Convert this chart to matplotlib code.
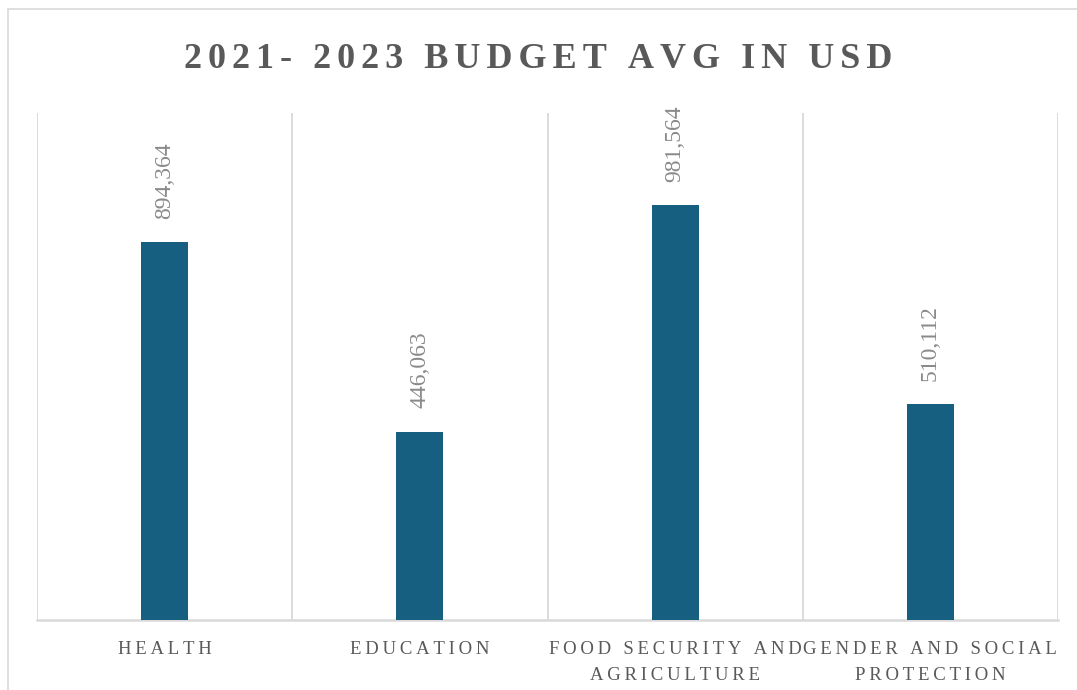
import numpy as np
import matplotlib
matplotlib.use("Agg")
import matplotlib.pyplot as plt
from matplotlib.patches import Rectangle

# budget averages per sector, 2021-2023 (USD)
sectors = ["HEALTH", "EDUCATION", "FOOD SECURITY AND\nAGRICULTURE",
           "GENDER AND SOCIAL\nPROTECTION"]
budget_avg = [894364, 446063, 981564, 510112]

BAR_COLOR = "#165f80"
GRID_COLOR = "#d9d9d9"
TEXT_COLOR = "#595959"
LABEL_COLOR = "#8a8a8a"
SERIF = ["Liberation Serif", "DejaVu Serif"]


def spread(s, gap="\u2009"):
    # fake letter spacing with narrow spaces, line by line
    return "\n".join(gap.join(line) for line in s.split("\n"))


fig = plt.figure(figsize=(10.77, 6.9), dpi=100)
fig.patch.set_facecolor("white")

# light frame round the chart
fig.patches.append(Rectangle((8 / 1077, -0.1), 1.2, 1.1 - 9 / 690,
                             transform=fig.transFigure, fill=False,
                             edgecolor=GRID_COLOR, lw=1.2))

ax = fig.add_axes([37 / 1077, 70 / 690, 1021 / 1077, 507 / 690])
x = np.arange(len(sectors))
ax.bar(x, budget_avg, width=0.185, color=BAR_COLOR, zorder=3)

ax.set_xlim(-0.5, len(sectors) - 0.5)
ax.set_ylim(0, 1200000)

# vertical separators between categories
for xv in np.arange(-0.5, len(sectors), 1.0):
    ax.axvline(xv, color=GRID_COLOR, lw=1.3, zorder=1)

for side in ["top", "right", "left"]:
    ax.spines[side].set_visible(False)
ax.spines["bottom"].set_color(GRID_COLOR)
ax.spines["bottom"].set_linewidth(1.8)
ax.set_yticks([])
ax.set_xticks(x)
ax.set_xticklabels([spread(s) for s in sectors], family=SERIF, fontsize=13.5,
                   color=TEXT_COLOR, linespacing=1.7)
ax.tick_params(axis="x", length=0, pad=15)

for xi, v in zip(x, budget_avg):
    ax.annotate(f"{v:,}", (xi, v), xytext=(0, 17), textcoords="offset points",
                rotation=90, ha="center", va="bottom", family=SERIF,
                fontsize=17, color=LABEL_COLOR)

fig.text(0.5, 1 - 59 / 690, spread("2021- 2023 BUDGET AVG IN USD", "\u2006"),
         ha="center", va="center", family=SERIF, fontsize=26,
         fontweight="bold", color=TEXT_COLOR)

fig.savefig("out.png", dpi=100)
